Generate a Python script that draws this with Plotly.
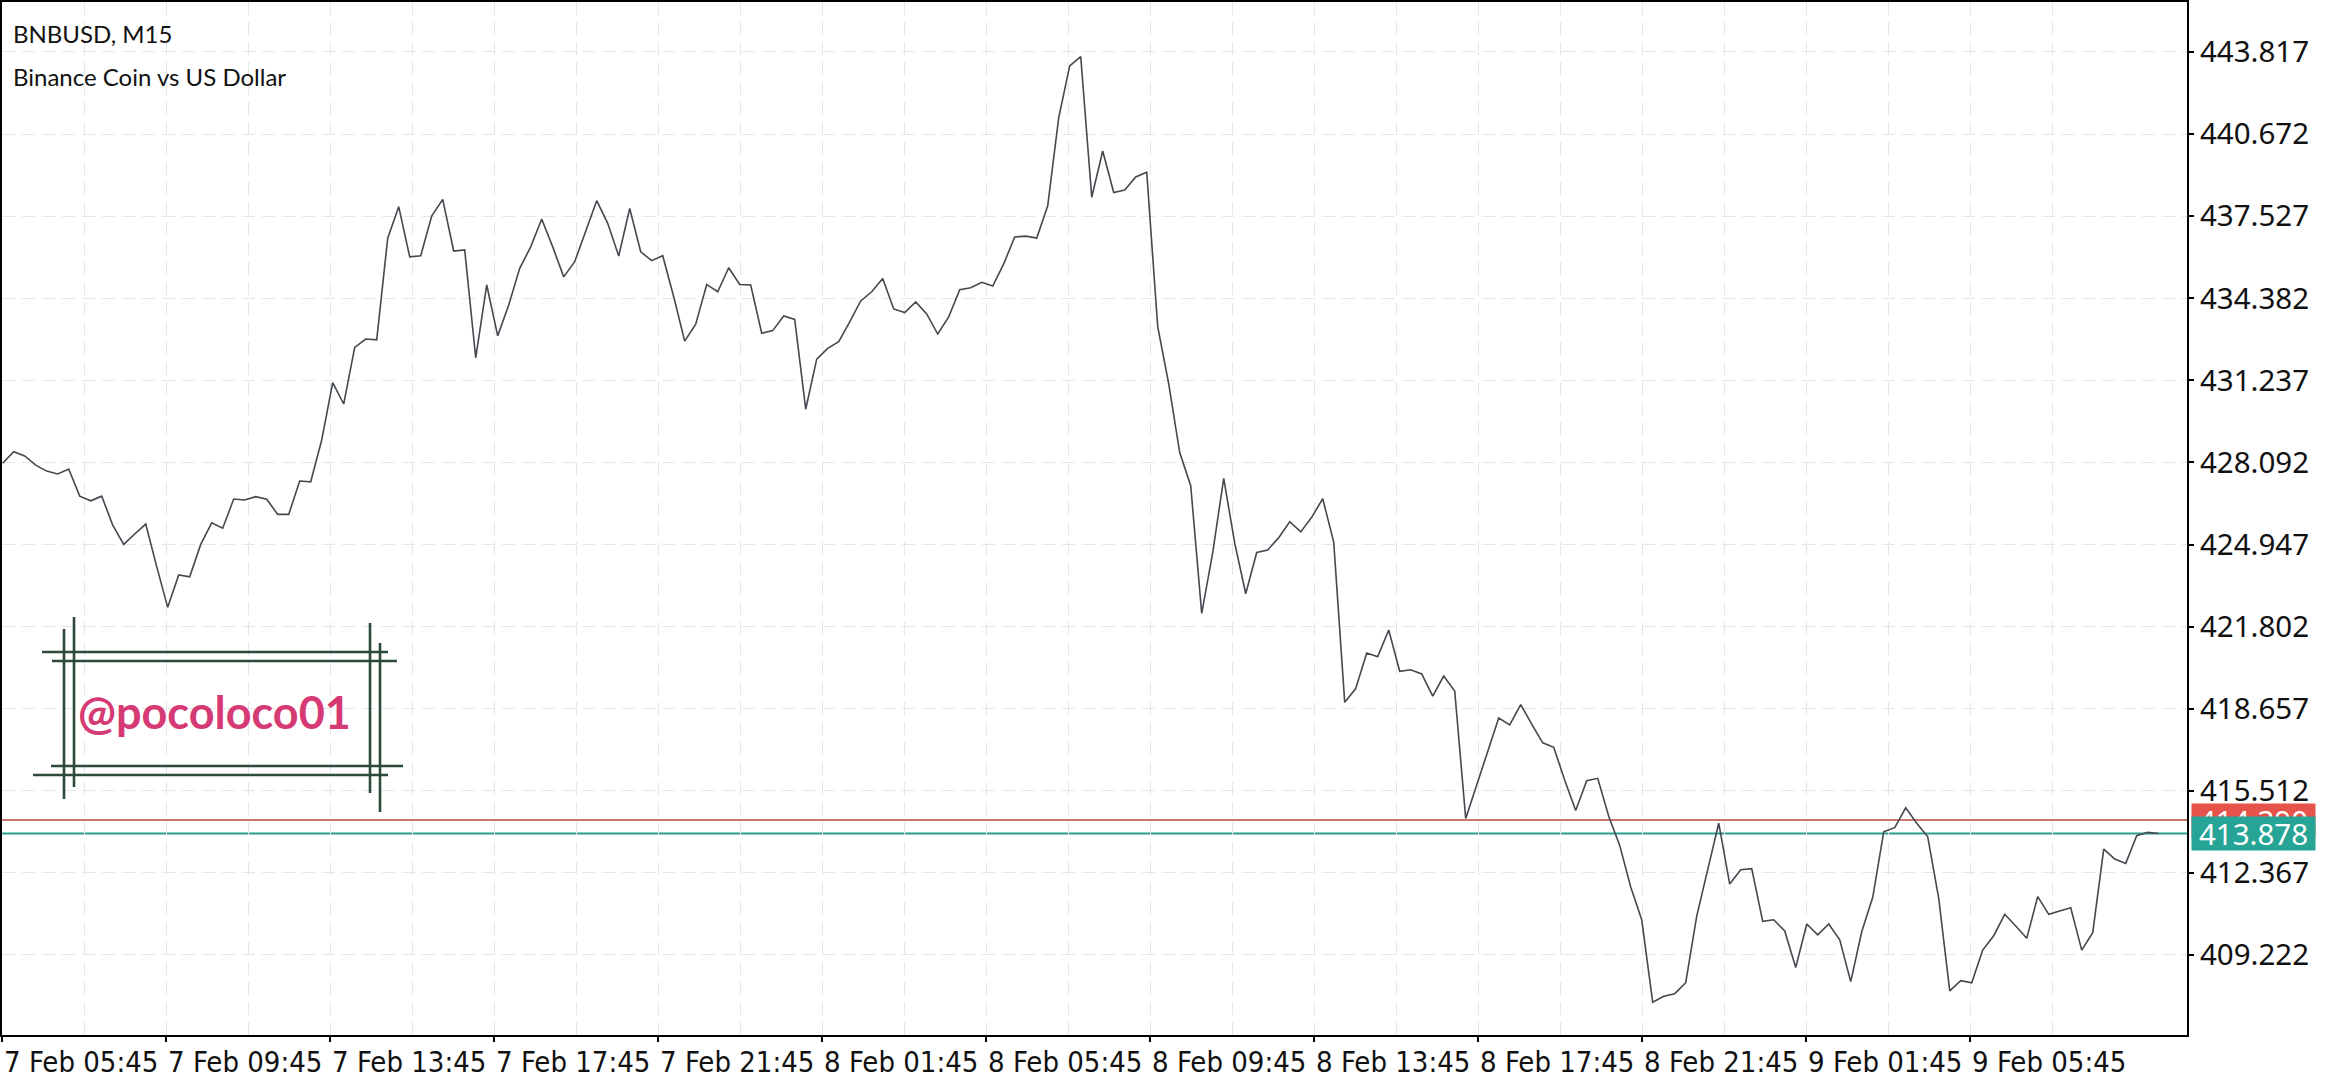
import plotly.graph_objects as go

# ---------------- data ----------------
SYMBOL = "BNBUSD, M15"
DESCRIPTION = "Binance Coin vs US Dollar"
WATERMARK = "@pocoloco01"

# close price of each M15 bar
CLOSE = [
    428.06, 428.50, 428.34, 427.99, 427.76, 427.65, 427.84, 426.80, 426.62, 426.80,
    425.69, 424.95, 425.35, 425.73, 424.10, 422.54, 423.78, 423.71, 424.95, 425.78,
    425.57, 426.69, 426.65, 426.78, 426.68, 426.10, 426.10, 427.38, 427.35, 428.95,
    431.15, 430.33, 432.50, 432.82, 432.79, 436.68, 437.89, 435.97, 436.01, 437.53,
    438.17, 436.19,
    436.23, 432.10, 434.89, 432.94, 434.12, 435.53, 436.35, 437.42, 436.35, 435.20,
    435.78, 436.97, 438.12, 437.25, 436.00, 437.82, 436.16, 435.82, 436.01, 434.44,
    432.74, 433.39, 434.91, 434.63, 435.55, 434.91, 434.89, 433.04, 433.14, 433.70,
    433.57, 430.13, 432.05, 432.46, 432.72, 433.48, 434.28, 434.63, 435.14, 433.97,
    433.83, 434.24, 433.78, 433.01, 433.67, 434.71, 434.78, 434.99, 434.85, 435.70,
    436.73, 436.76, 436.69, 437.92, 441.30, 443.28, 443.64, 438.25, 440.02, 438.43,
    438.53, 439.03, 439.21, 433.29, 431.10, 428.47, 427.20, 422.31, 424.64, 427.48,
    425.00, 423.06, 424.64, 424.74, 425.21, 425.82, 425.43, 425.99, 426.70, 425.04,
    418.90, 419.43, 420.79, 420.65, 421.67, 420.09, 420.15, 419.99, 419.14, 419.91,
    419.33, 414.45, 415.73, 417.05, 418.30, 418.04, 418.81, 418.07, 417.35, 417.18,
    415.92, 414.76, 415.90, 415.99, 414.54, 413.42, 411.83, 410.57, 407.41, 407.64,
    407.74, 408.16, 410.71, 412.49, 414.27, 411.94, 412.49, 412.53, 410.51, 410.57,
    410.14, 408.74, 410.41, 409.99, 410.41, 409.80, 408.20, 410.11, 411.43, 413.94,
    414.10, 414.86, 414.27, 413.75, 411.39, 407.85, 408.24, 408.16, 409.41, 409.96,
    410.78, 410.33, 409.86, 411.46, 410.78, 410.91, 411.03, 409.41, 410.08, 413.28,
    412.90, 412.73, 413.79, 413.92, 413.878,
]
BAR = list(range(len(CLOSE)))

BID = 413.878
ASK = 414.390

Y_TICKS = [409.222, 412.367, 415.512, 418.657, 421.802, 424.947,
           428.092, 431.237, 434.382, 437.527, 440.672, 443.817]
X_TICK_LABELS = ["7 Feb 05:45", "7 Feb 09:45", "7 Feb 13:45", "7 Feb 17:45",
                 "7 Feb 21:45", "8 Feb 01:45", "8 Feb 05:45", "8 Feb 09:45",
                 "8 Feb 13:45", "8 Feb 17:45", "8 Feb 21:45", "9 Feb 01:45",
                 "9 Feb 05:45"]

# ---------------- layout constants ----------------
W, H = 2340, 1080
ML, MR, MT, MB = 2, 153, 2, 45
PW, PH = W - ML - MR, H - MT - MB

X_RANGE = [-0.064, 198.57]
Y_RANGE = [406.157, 445.73]
FIRST_TICK = -0.06
BARS_PER_LABEL = 14.909

tickvals = [FIRST_TICK + k * BARS_PER_LABEL for k in range(len(X_TICK_LABELS))]
minor_vals = [FIRST_TICK + (k + 0.5) * BARS_PER_LABEL for k in range(len(X_TICK_LABELS) + 1)]

GRID = "#e2e7ea"
DASH = "13px,7px"
AXIS_FONT = dict(family="Noto Sans, Roboto, sans-serif", size=29.5, color="#111111")
XFONT = dict(family="Liberation Sans Narrow, Arial Narrow, DejaVu Sans Condensed, Roboto, sans-serif",
             size=29, color="#111111")
TITLE_FONT = dict(family="Lato, sans-serif", size=24, color="#111111")


def px(x):
    return (x - ML) / PW


def py(y):
    return (H - MB - y) / PH


fig = go.Figure()
fig.add_trace(go.Scatter(x=BAR, y=CLOSE, mode="lines",
                         line=dict(color="#44484f", width=1.6),
                         hoverinfo="skip", showlegend=False))

shapes = []
# bid / ask lines
shapes.append(dict(type="line", xref="paper", yref="y", x0=0, x1=1, y0=ASK, y1=ASK,
                   line=dict(color="#c9756f", width=2), layer="between"))
shapes.append(dict(type="line", xref="paper", yref="y", x0=0, x1=1, y0=BID, y1=BID,
                   line=dict(color="#2b9d91", width=2), layer="between"))

# watermark frame (double lines), pixel geometry
WM = "#2c4a37"
wm_lines = [
    ((42, 652), (388, 652)), ((52, 661), (397, 661)),
    ((51, 766), (403, 766)), ((33, 775), (388, 775)),
    ((64, 629), (64, 799)), ((74, 617), (74, 787)),
    ((370, 623), (370, 793)), ((380, 643), (380, 812)),
]
for (x0, y0), (x1, y1) in wm_lines:
    shapes.append(dict(type="line", xref="paper", yref="paper",
                       x0=px(x0), x1=px(x1), y0=py(y0), y1=py(y1),
                       line=dict(color=WM, width=2.6), layer="above"))

annotations = [
    dict(text=SYMBOL, xref="paper", yref="paper", x=px(11), y=py(33), xanchor="left",
         yanchor="middle", showarrow=False, font=TITLE_FONT),
    dict(text=DESCRIPTION, xref="paper", yref="paper", x=px(11), y=py(76), xanchor="left",
         yanchor="middle", showarrow=False, font=TITLE_FONT),
    dict(text="<b>" + WATERMARK + "</b>", xref="paper", yref="paper", x=px(214), y=py(712),
         xanchor="center", yanchor="middle", showarrow=False,
         font=dict(family="Lato, sans-serif", size=45, color="#d63a74")),
    dict(text=f"{ASK:.3f}", xref="paper", yref="y", x=1, y=ASK, xanchor="left", yanchor="middle",
         xshift=4, showarrow=False, bgcolor="#e5534b", width=121, height=31, borderpad=1,
         font=dict(family=AXIS_FONT["family"], size=29.5, color="white")),
    dict(text=f"{BID:.3f}", xref="paper", yref="y", x=1, y=BID, xanchor="left", yanchor="middle",
         xshift=4, showarrow=False, bgcolor="#26a495", width=121, height=31, borderpad=1,
         font=dict(family=AXIS_FONT["family"], size=29.5, color="white")),
]

fig.update_layout(
    template=None,
    width=W, height=H,
    margin=dict(l=ML, r=MR, t=MT, b=MB, pad=0, autoexpand=False),
    paper_bgcolor="white", plot_bgcolor="white",
    showlegend=False, hovermode=False,
    shapes=shapes, annotations=annotations,
    xaxis=dict(range=X_RANGE, tickmode="array", tickvals=tickvals, ticktext=X_TICK_LABELS,
               ticks="outside", ticklen=5, tickwidth=2, tickcolor="black", tickangle=0,
               ticklabelposition="outside right", tickfont=XFONT, automargin=False,
               showline=True, mirror=True, linecolor="black", linewidth=2,
               showgrid=True, gridcolor=GRID, griddash=DASH, gridwidth=1,
               minor=dict(tickvals=minor_vals, showgrid=True, gridcolor=GRID, griddash=DASH, gridwidth=1),
               zeroline=False, fixedrange=True),
    yaxis=dict(range=Y_RANGE, side="right", tickmode="array", tickvals=Y_TICKS,
               ticktext=[f"{v:.3f}" for v in Y_TICKS], automargin=False,
               ticks="outside", ticklen=5, tickwidth=2, tickcolor="black", tickfont=AXIS_FONT,
               showline=True, mirror=True, linecolor="black", linewidth=2,
               showgrid=True, gridcolor=GRID, griddash=DASH, gridwidth=1,
               zeroline=False, fixedrange=True),
)

fig.write_html("out.html", config={"displayModeBar": False},
               post_script="document.body.style.margin='0';document.body.style.overflow='hidden';")
